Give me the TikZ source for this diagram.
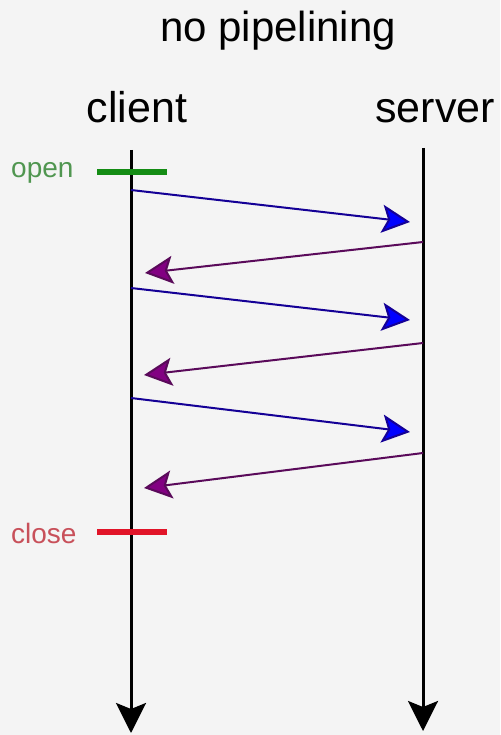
\documentclass[tikz,border=0pt]{standalone}
\usepackage{fontspec}
\setmainfont{Liberation Sans}
\usetikzlibrary{arrows.meta}
\definecolor{bg}{RGB}{244,244,244}
\definecolor{reqline}{RGB}{20,0,150}
\definecolor{reqhead}{RGB}{0,0,255}
\definecolor{respline}{RGB}{90,10,90}
\definecolor{resphead}{RGB}{130,0,130}
\definecolor{opengreen}{RGB}{20,140,20}
\definecolor{opentext}{RGB}{80,150,80}
\definecolor{closered}{RGB}{225,20,40}
\definecolor{closetext}{RGB}{200,80,90}
\tikzset{
  lifeline/.style={line width=3pt, -{Stealth[length=30pt,width=30pt,inset=6pt]}},
  req/.style={draw=reqline, line width=2pt, -{Stealth[length=28pt,width=28pt,inset=6pt,fill=reqhead]}},
  resp/.style={draw=respline, line width=2pt, -{Stealth[length=28pt,width=28pt,inset=6pt,fill=resphead]}},
  bar/.style={line width=6pt},
  lbl/.style={inner sep=0pt, anchor=base},
  tag/.style={inner sep=0pt, anchor=base west, font=\fontsize{28}{32}\selectfont}
}
\begin{document}
\begin{tikzpicture}[x=1pt,y=-1pt]
\fill[bg] (0,0) rectangle (500,735);
\useasboundingbox (0,0) rectangle (500,735);
% titles
\node[lbl, font=\fontsize{42}{48}\selectfont] (title) at (278,42) {no pipelining};
\node[lbl, font=\fontsize{43}{50}\selectfont] (client) at (137,123) {client};
\node[lbl, font=\fontsize{43}{50}\selectfont] (server) at (435,123) {server};
% lifelines
\coordinate (ctop) at (131,150);
\coordinate (cbot) at (131,733);
\coordinate (stop) at (423,148);
\coordinate (sbot) at (423,731);
\draw[lifeline] (ctop) -- (cbot);
\draw[lifeline] (stop) -- (sbot);
% open / close
\node[tag, text=opentext] (open) at (11,178) {open};
\node[tag, text=closetext] (close) at (11,543) {close};
\coordinate (oa) at (97,172); \coordinate (ob) at (167,172);
\coordinate (ca) at (97,532); \coordinate (cb) at (167,532);
\draw[bar, opengreen] (oa) -- (ob);
\draw[bar, closered] (ca) -- (cb);
% messages
\coordinate (r1s) at (131,190); \coordinate (r1e) at (410,222);
\coordinate (p1s) at (423,242); \coordinate (p1e) at (145,273);
\coordinate (r2s) at (131,288); \coordinate (r2e) at (410,320);
\coordinate (p2s) at (423,343); \coordinate (p2e) at (144,375);
\coordinate (r3s) at (131,398); \coordinate (r3e) at (410,432);
\coordinate (p3s) at (423,453); \coordinate (p3e) at (144,488);
\draw[req] (r1s) -- (r1e);
\draw[resp] (p1s) -- (p1e);
\draw[req] (r2s) -- (r2e);
\draw[resp] (p2s) -- (p2e);
\draw[req] (r3s) -- (r3e);
\draw[resp] (p3s) -- (p3e);
\end{tikzpicture}
\end{document}
